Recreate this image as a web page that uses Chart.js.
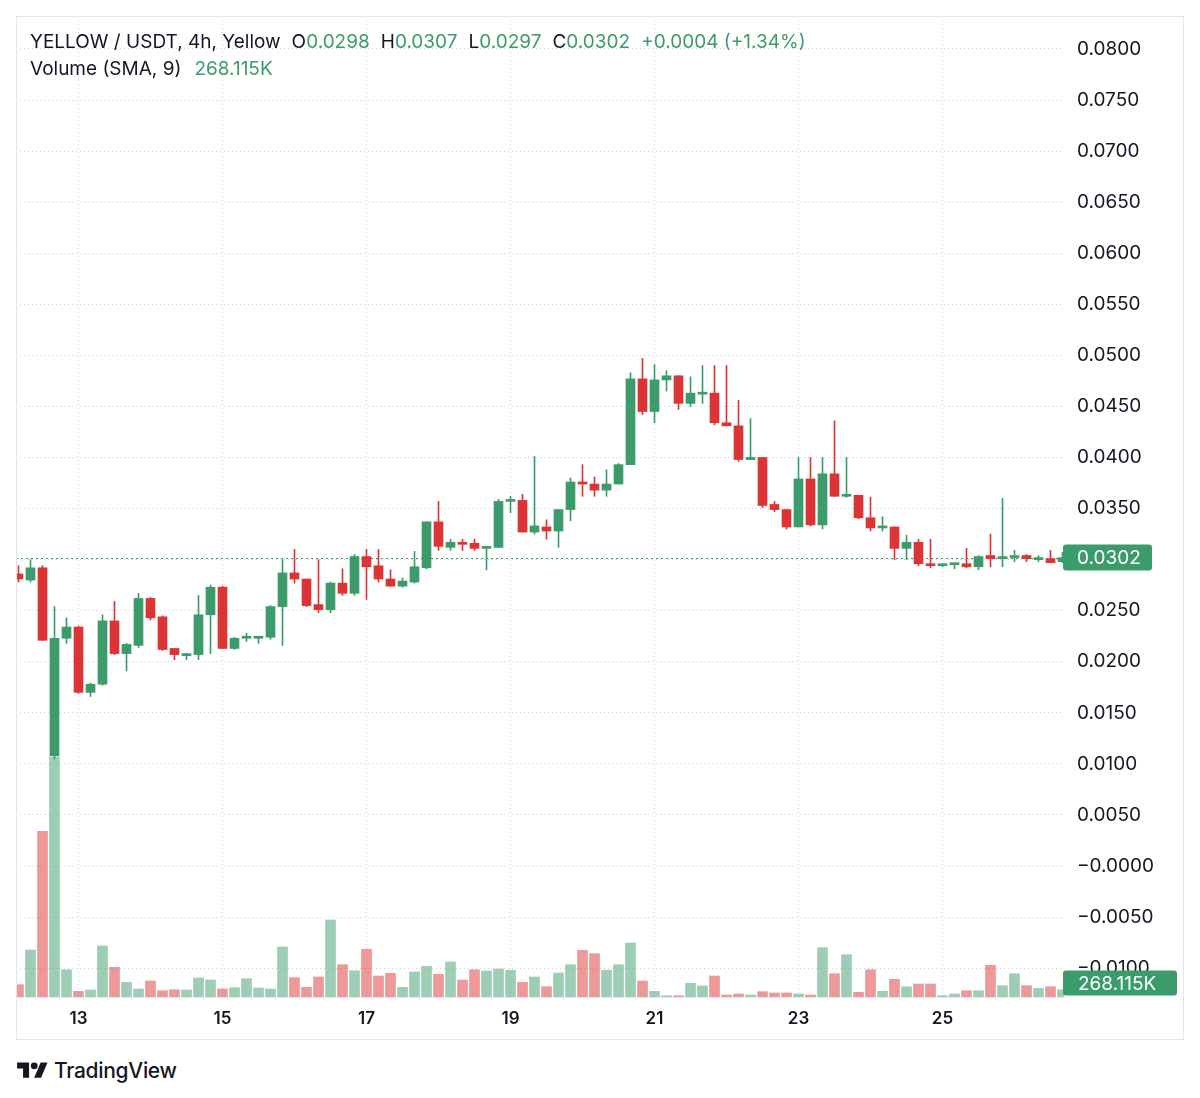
<!DOCTYPE html>
<html>
<head>
<meta charset="utf-8">
<script src="https://cdn.jsdelivr.net/npm/chart.js@4.4.0/dist/chart.umd.min.js"></script>
<style>
  html, body { margin: 0; padding: 0; background: #fff; }
  body { width: 1200px; height: 1098px; position: relative; overflow: hidden; font-family: Inter, "Noto Sans", sans-serif; color: #131722; }
  #frame { position: absolute; left: 16px; top: 16px; width: 1168px; height: 1024px; box-sizing: border-box; border: 1px solid #e3e5ea; pointer-events: none; z-index: 2; }
  #wrap { position: absolute; left: 16px; top: 16px; width: 1168px; height: 1024px; z-index: 1; }
  .legend { position: absolute; left: 30px; font-size: 19px; line-height: 24px; white-space: nowrap; z-index: 3; }
  .legend .k { margin-left: 11px; }
  .up { color: #3b9b6b; }
  #logo { position: absolute; left: 17px; top: 1058px; display: flex; align-items: center; }
  #logo span { font-size: 21px; font-weight: 500; margin-left: 6px; letter-spacing: -0.3px; }
</style>
</head>
<body>
<div class="legend" style="top:30px">YELLOW / USDT, 4h, Yellow<span class="k">O</span><span class="up" id="vO"></span><span class="k">H</span><span class="up" id="vH"></span><span class="k">L</span><span class="up" id="vL"></span><span class="k">C</span><span class="up" id="vC"></span><span class="up k" id="vChg"></span></div>
<div class="legend" style="top:57px">Volume (SMA, 9)<span class="up k" id="vSma" style="margin-left:13px"></span></div>
<div id="wrap"><canvas id="myChart" width="1168" height="1024"></canvas></div>
<div id="frame"></div>
<div id="logo">
  <svg width="31" height="24" viewBox="0 0 36 28"><path d="M14 22H7V11H0V4h14v18z" fill="#131722"/><circle cx="20" cy="8" r="4" fill="#131722"/><path d="M28 22h-8l7.5-18h8L28 22z" fill="#131722"/></svg>
  <span>TradingView</span>
</div>
<script>
// 4h candles, first one is day 12 04:00
var firstDay = 12, firstHour = 4, stepHours = 4;

var opens = [0.0286, 0.0280, 0.0292, 0.0108, 0.0223, 0.0234, 0.0170, 0.0178, 0.0240, 0.0208,
    0.0216, 0.0262, 0.0244, 0.0213, 0.0206, 0.0207, 0.0246, 0.0273, 0.0213, 0.0223,
    0.0223, 0.0224, 0.0254, 0.0287, 0.0281, 0.0256, 0.0251, 0.0277, 0.0267, 0.0303,
    0.0294, 0.0281, 0.0274, 0.0278, 0.0292, 0.0337, 0.0312, 0.0317, 0.0316, 0.0311,
    0.0312, 0.0357, 0.0358, 0.0327, 0.0332, 0.0328, 0.0349, 0.0376, 0.0374, 0.0368,
    0.0374, 0.0393, 0.0477, 0.0445, 0.0476, 0.0480, 0.0453, 0.0462, 0.0463, 0.0434,
    0.0431, 0.0398, 0.0400, 0.0354, 0.0349, 0.0332, 0.0379, 0.0334, 0.0384, 0.0362,
    0.0363, 0.0341, 0.0331, 0.0332, 0.0311, 0.0317, 0.0296, 0.0294, 0.0295, 0.0296,
    0.0293, 0.0304, 0.0301, 0.0302, 0.0304, 0.0300, 0.0301, 0.0298];
var highs = [0.0294, 0.0300, 0.0294, 0.0254, 0.0243, 0.0235, 0.0179, 0.0246, 0.0259, 0.0218,
    0.0267, 0.0263, 0.0245, 0.0213, 0.0208, 0.0265, 0.0275, 0.0274, 0.0224, 0.0228,
    0.0225, 0.0255, 0.0300, 0.0310, 0.0281, 0.0300, 0.0278, 0.0291, 0.0305, 0.0310,
    0.0310, 0.0290, 0.0282, 0.0308, 0.0337, 0.0357, 0.0320, 0.0320, 0.0320, 0.0313,
    0.0359, 0.0362, 0.0364, 0.0401, 0.0339, 0.0349, 0.0380, 0.0393, 0.0381, 0.0388,
    0.0394, 0.0483, 0.0497, 0.0491, 0.0485, 0.0480, 0.0479, 0.0490, 0.0490, 0.0490,
    0.0456, 0.0438, 0.0400, 0.0357, 0.0349, 0.0400, 0.0400, 0.0400, 0.0436, 0.0400,
    0.0363, 0.0361, 0.0342, 0.0332, 0.0324, 0.0320, 0.0320, 0.0296, 0.0297, 0.0311,
    0.0304, 0.0325, 0.0360, 0.0309, 0.0305, 0.0304, 0.0309, 0.0307];
var lows = [0.0278, 0.0278, 0.0221, 0.0105, 0.0218, 0.0169, 0.0166, 0.0177, 0.0207, 0.0191,
    0.0214, 0.0241, 0.0211, 0.0202, 0.0202, 0.0202, 0.0208, 0.0213, 0.0212, 0.0220,
    0.0218, 0.0222, 0.0216, 0.0277, 0.0254, 0.0248, 0.0248, 0.0265, 0.0265, 0.0261,
    0.0278, 0.0274, 0.0273, 0.0277, 0.0291, 0.0309, 0.0309, 0.0309, 0.0309, 0.0290,
    0.0312, 0.0346, 0.0327, 0.0325, 0.0320, 0.0312, 0.0338, 0.0362, 0.0362, 0.0362,
    0.0374, 0.0393, 0.0442, 0.0434, 0.0465, 0.0447, 0.0450, 0.0453, 0.0432, 0.0431,
    0.0396, 0.0398, 0.0351, 0.0347, 0.0330, 0.0332, 0.0333, 0.0330, 0.0362, 0.0361,
    0.0340, 0.0328, 0.0328, 0.0300, 0.0300, 0.0294, 0.0292, 0.0293, 0.0291, 0.0292,
    0.0290, 0.0293, 0.0293, 0.0298, 0.0298, 0.0298, 0.0297, 0.0297];
var closes = [0.0281, 0.0292, 0.0221, 0.0223, 0.0234, 0.0170, 0.0178, 0.0240, 0.0208, 0.0217,
    0.0262, 0.0243, 0.0212, 0.0207, 0.0207, 0.0246, 0.0273, 0.0213, 0.0223, 0.0224,
    0.0224, 0.0254, 0.0287, 0.0281, 0.0255, 0.0251, 0.0277, 0.0267, 0.0303, 0.0293,
    0.0281, 0.0274, 0.0279, 0.0293, 0.0337, 0.0313, 0.0317, 0.0315, 0.0311, 0.0312,
    0.0357, 0.0358, 0.0327, 0.0333, 0.0328, 0.0349, 0.0376, 0.0374, 0.0368, 0.0374,
    0.0393, 0.0477, 0.0445, 0.0476, 0.0480, 0.0453, 0.0463, 0.0463, 0.0434, 0.0431,
    0.0398, 0.0400, 0.0353, 0.0349, 0.0332, 0.0379, 0.0334, 0.0384, 0.0362, 0.0363,
    0.0341, 0.0331, 0.0332, 0.0311, 0.0317, 0.0296, 0.0294, 0.0295, 0.0296, 0.0293,
    0.0303, 0.0301, 0.0303, 0.0303, 0.0301, 0.0302, 0.0297, 0.0302];
// volume in thousands
var volumes = [255, 973, 3430, 4970, 565, 118, 145, 1056, 615, 304,
    166, 331, 130, 151, 145, 393, 352, 166, 193, 379,
    186, 166, 1035, 400, 201, 414, 1594, 669, 544, 987,
    435, 491, 201, 518, 635, 470, 725, 352, 565, 538,
    580, 553, 304, 414, 213, 497, 669, 967, 896, 553,
    669, 1118, 331, 118, 27, 27, 284, 228, 435, 41,
    62, 41, 110, 83, 83, 62, 41, 1021, 482, 876,
    97, 565, 118, 366, 213, 269, 269, 27, 62, 130,
    130, 656, 234, 482, 234, 180, 213, 151];

var priceTicks = [0.08, 0.075, 0.07, 0.065, 0.06, 0.055, 0.05, 0.045, 0.04, 0.035,
    0.03, 0.025, 0.02, 0.015, 0.01, 0.005, 0, -0.005, -0.01];
var priceTickLabels = ['0.0800', '0.0750', '0.0700', '0.0650', '0.0600', '0.0550', '0.0500', '0.0450',
    '0.0400', '0.0350', '0.0300', '0.0250', '0.0200', '0.0150', '0.0100', '0.0050',
    '\u22120.0000', '\u22120.0050', '\u22120.0100'];
var changeText = '+0.0004 (+1.34%)';
var volSmaText = '268.115K';

var upColor = '#3b9b6b', downColor = '#dc3434';
var upVol = 'rgba(59,155,107,0.5)', downVol = 'rgba(220,52,52,0.5)';
var gridColor = '#cfd2d8';

var last = closes.length - 1;
document.getElementById('vO').innerText = opens[last].toFixed(4)
document.getElementById('vH').innerText = highs[last].toFixed(4)
document.getElementById('vL').innerText = lows[last].toFixed(4)
document.getElementById('vC').innerText = closes[last].toFixed(4)
document.getElementById('vChg').innerText = changeText
document.getElementById('vSma').innerText = volSmaText

var times = opens.map(function (_, i) {
    var h = firstHour + i * stepHours;
    return { day: firstDay + Math.floor(h / 24), hour: h % 24 };
});
var dayTicks = [];
times.forEach(function (t, i) {
    if (t.hour === 0 && t.day % 2 === 1) dayTicks.push(i);
});

var isUp = function (i) { return closes[i] >= opens[i]; };
var candleColor = function (c) { return isUp(c.dataIndex) ? upColor : downColor; };

// green price tag on the right scale
let tagBox = (ctx, text, left, cy, textX, w, h) => {
    ctx.fillStyle = upColor;
    ctx.beginPath();
    ctx.roundRect(left, cy - h / 2, w, h, 3);
    ctx.fill();
    ctx.font = '19px Inter';
    ctx.fillStyle = '#fff';
    ctx.textAlign = 'left';
    ctx.textBaseline = 'middle';
    ctx.fillText(text, textX, cy + 1);
}

var tvOverlay = {
    id: 'tvOverlay',
    beforeDatasetsDraw: function (chart) {
        var ctx = chart.ctx, a = chart.chartArea;
        var py = Math.round(chart.scales.y.getPixelForValue(closes[last])) + 0.5;
        ctx.save();
        ctx.strokeStyle = upColor;
        ctx.lineWidth = 1;
        ctx.setLineDash([2, 3]);
        ctx.beginPath();
        ctx.moveTo(a.left, py);
        ctx.lineTo(a.right, py);
        ctx.stroke();
        ctx.restore();
    },
    afterDraw: function (chart) {
        var ctx = chart.ctx, a = chart.chartArea;
        ctx.save();
        tagBox(ctx, closes[last].toFixed(4), a.right - 1, chart.scales.y.getPixelForValue(closes[last]), a.right + 13, 89, 26);
        var vy = Math.min(chart.scales.yv.getPixelForValue(volumes[last]), a.bottom - 14);
        tagBox(ctx, volSmaText, a.right - 1, vy, a.right + 14, 114, 25);
        ctx.restore();
    }
};

var xMin = -1 / 6 - 1 / 24;
var xMax = xMin + 1048 / 12;
var yMin = -0.012827, yMax = 0.083231;

var ctx = document.getElementById('myChart').getContext('2d');
var myChart = new Chart(ctx, {
    type: 'bar',
    data: {
        datasets: [{
            label: 'wick',
            data: opens.map(function (_, i) { return { x: i, y: [lows[i], highs[i]] }; }),
            backgroundColor: candleColor,
            barThickness: 1,
            grouped: false,
            order: 2,
            yAxisID: 'y'
        }, {
            label: 'body',
            data: opens.map(function (o, i) { return { x: i, y: [o, closes[i]] }; }),
            backgroundColor: candleColor,
            barThickness: 9,
            minBarLength: 2,
            grouped: false,
            order: 1,
            yAxisID: 'y'
        }, {
            label: 'volume',
            data: volumes.map(function (v, i) { return { x: i, y: v }; }),
            backgroundColor: function (c) { return isUp(c.dataIndex) ? upVol : downVol; },
            barThickness: 10,
            grouped: false,
            order: 3,
            yAxisID: 'yv'
        }]
    },
    options: {
        responsive: false,
        animation: false,
        events: [],
        layout: { padding: 0 },
        plugins: { legend: { display: false }, tooltip: { enabled: false } },
        scales: {
            x: {
                type: 'linear',
                min: xMin,
                max: xMax,
                offset: false,
                afterFit: function (s) {
                    s.height = 43;
                    s.paddingLeft = 0; s.paddingRight = 0;
                },
                afterBuildTicks: function (s) { s.ticks = dayTicks.map(function (v) { return { value: v }; }); },
                ticks: {
                    callback: function (v) { return String(times[v].day); },
                    color: '#131722',
                    font: { family: 'Inter', size: 17, weight: '600' },
                    padding: 12,
                    maxRotation: 0,
                    autoSkip: false
                },
                grid: { color: gridColor, drawTicks: false, offset: false },
                border: { display: true, color: '#e6e8ee', dash: [1, 3] }
            },
            y: {
                type: 'linear',
                position: 'right',
                min: yMin,
                max: yMax,
                afterFit: function (s) {
                    s.width = 120;
                    s.paddingTop = 0; s.paddingBottom = 0;
                },
                afterBuildTicks: function (s) { s.ticks = priceTicks.map(function (v) { return { value: v }; }); },
                ticks: {
                    callback: function (v, i) { return priceTickLabels[i]; },
                    color: '#131722',
                    font: { family: 'Inter', size: 19 },
                    padding: 13,
                    autoSkip: false
                },
                grid: { color: gridColor, drawTicks: false },
                border: { display: false, dash: [1, 3] }
            },
            yv: {
                type: 'linear',
                display: false,
                min: 0,
                max: 20307
            }
        }
    },
    plugins: [tvOverlay]
});
</script>
</body>
</html>
